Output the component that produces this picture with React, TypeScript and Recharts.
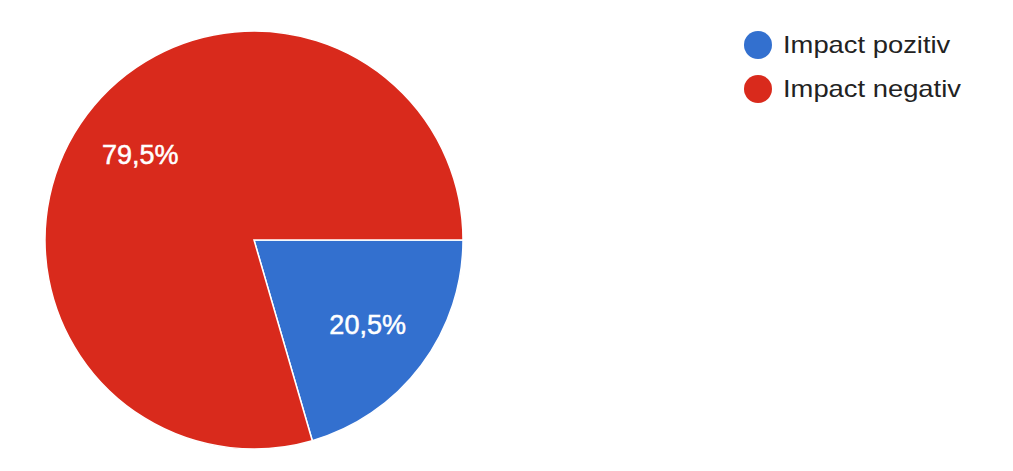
import { Cell, Pie, PieChart } from "recharts";

const CATEGORIES = ["Impact pozitiv", "Impact negativ"];
const VALUES = [20.5, 79.5];
const COLORS = ["#3370cf", "#d92a1c"];

const data = CATEGORIES.map((name, i) => ({ name, value: VALUES[i] }));

const RADIAN = Math.PI / 180;

function SliceLabel(props: any) {
  const { cx, cy, midAngle, outerRadius, value } = props;
  const r = outerRadius * 0.68;
  const x = cx + r * Math.cos(-midAngle * RADIAN);
  const y = cy + r * Math.sin(-midAngle * RADIAN);
  return (
    <text
      x={x}
      y={y}
      textAnchor="middle"
      dominantBaseline="central"
      fill="#ffffff"
      stroke="#ffffff"
      strokeWidth={0.5}
      fontSize={27}
      fontFamily="Arial, 'Liberation Sans', sans-serif"
    >
      {value.toFixed(1).replace(".", ",")}%
    </text>
  );
}

function LegendBox() {
  return (
    <div
      style={{
        position: "absolute",
        left: 744,
        top: 23,
        fontFamily: "Arial, 'Liberation Sans', sans-serif"
      }}
    >
      {data.map((d, i) => (
        <div
          key={d.name}
          style={{ display: "flex", alignItems: "center", height: 44 }}
        >
          <span
            style={{
              width: 28,
              height: 28,
              borderRadius: "50%",
              background: COLORS[i],
              display: "inline-block",
              marginRight: 11
            }}
          />
          <span
            style={{
              fontSize: 24,
              color: "#222222",
              display: "inline-block",
              transform: "scaleX(1.14)",
              transformOrigin: "left center",
              whiteSpace: "nowrap"
            }}
          >
            {d.name}
          </span>
        </div>
      ))}
    </div>
  );
}

export default function App() {
  return (
    <div
      style={{
        position: "relative",
        width: 1013,
        height: 471,
        background: "#ffffff",
        overflow: "hidden"
      }}
    >
      <style>{"body{margin:0}"}</style>
      <PieChart
        width={1013}
        height={471}
        margin={{ top: 0, right: 0, bottom: 0, left: 0 }}
      >
        <Pie
          data={data}
          dataKey="value"
          nameKey="name"
          cx={254}
          cy={240}
          outerRadius={209}
          startAngle={0}
          endAngle={-360}
          stroke="#ffffff"
          strokeWidth={1.5}
          labelLine={false}
          label={SliceLabel}
          isAnimationActive={false}
        >
          {data.map((d, i) => (
            <Cell key={d.name} fill={COLORS[i]} />
          ))}
        </Pie>
      </PieChart>
      <LegendBox />
    </div>
  );
}
